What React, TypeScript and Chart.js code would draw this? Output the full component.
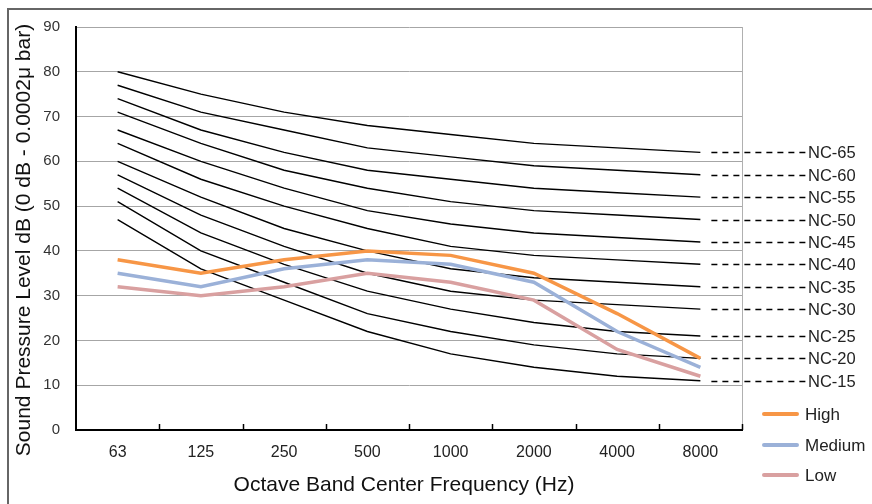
import React, { useEffect, useRef } from "react";
import { Chart, registerables } from "chart.js";

Chart.register(...registerables);

const categories = ["63", "125", "250", "500", "1000", "2000", "4000", "8000"];

const nc15 = [47, 36, 29, 22, 17, 14, 12, 11];
const nc20 = [51, 40, 33, 26, 22, 19, 17, 16];
const nc25 = [54, 44, 37, 31, 27, 24, 22, 21];
const nc30 = [57, 48, 41, 35, 31, 29, 28, 27];
const nc35 = [60, 52, 45, 40, 36, 34, 33, 32];
const nc40 = [64, 56, 50, 45, 41, 39, 38, 37];
const nc45 = [67, 60, 54, 49, 46, 44, 43, 42];
const nc50 = [71, 64, 58, 54, 51, 49, 48, 47];
const nc55 = [74, 67, 62, 58, 56, 54, 53, 52];
const nc60 = [77, 71, 67, 63, 61, 59, 58, 57];
const nc65 = [80, 75, 71, 68, 66, 64, 63, 62];

const ncNames = ["NC-65", "NC-60", "NC-55", "NC-50", "NC-45", "NC-40", "NC-35", "NC-30", "NC-25", "NC-20", "NC-15"];
const ncSeries = [nc65, nc60, nc55, nc50, nc45, nc40, nc35, nc30, nc25, nc20, nc15];

const high = [38, 35, 38, 40, 39, 35, 26, 16];
const medium = [35, 32, 36, 38, 37, 33, 22, 14];
const low = [32, 30, 32, 35, 33, 29, 18, 12];

const seriesNames = ["High", "Medium", "Low"];
const seriesColors = ["#F79646", "#9BB1D8", "#D9A0A0"];

const yTicks = [0, 10, 20, 30, 40, 50, 60, 70, 80, 90];

const yTitle = "Sound Pressure Level dB (0 dB - 0.0002\u03bc bar)";
const xTitle = "Octave Band Center Frequency (Hz)";

const FONT = "'Liberation Sans', Arial, sans-serif";

const decorPlugin = {
  id: "decor",
  beforeDraw(chart: any) {
    const ctx = chart.ctx;
    ctx.save();
    ctx.fillStyle = "#fff";
    ctx.fillRect(0, 0, chart.width, chart.height);
    ctx.strokeStyle = "#666";
    ctx.lineWidth = 2;
    ctx.beginPath();
    ctx.moveTo(chart.width + 2, 9);
    ctx.lineTo(8, 9);
    ctx.lineTo(8, chart.height + 2);
    ctx.stroke();
    ctx.restore();
  },
  afterDatasetsDraw(chart: any) {
    const ctx = chart.ctx;
    const area = chart.chartArea;
    const x = chart.scales.x;
    const y = chart.scales.y;
    ctx.save();
    ctx.strokeStyle = "#b0b0b0";
    ctx.lineWidth = 1;
    ctx.beginPath();
    ctx.moveTo(area.right + 0.5, area.top);
    ctx.lineTo(area.right + 0.5, area.bottom);
    ctx.stroke();
    ctx.strokeStyle = "#000";
    ctx.lineWidth = 1.5;
    const n = categories.length;
    const step = (area.right - area.left) / n;
    for (let i = 1; i <= n; i++) {
      const px = Math.round(area.left + i * step) + 0.5;
      ctx.beginPath();
      ctx.moveTo(px, area.bottom);
      ctx.lineTo(px, area.bottom - 6);
      ctx.stroke();
    }
    const lastX = x.getPixelForValue(categories.length - 1);
    ctx.font = "16.5px " + FONT;
    ctx.textBaseline = "middle";
    ctx.textAlign = "left";
    ncSeries.forEach((s, i) => {
      const py = Math.round(y.getPixelForValue(s[s.length - 1])) + 0.5;
      ctx.strokeStyle = "#000";
      ctx.lineWidth = 1.3;
      ctx.setLineDash([6, 5]);
      ctx.beginPath();
      ctx.moveTo(lastX + 11, py);
      ctx.lineTo(807, py);
      ctx.stroke();
      ctx.setLineDash([]);
      ctx.fillStyle = "#222";
      ctx.fillText(ncNames[i], 808, py + 1);
    });
    ctx.font = "17px " + FONT;
    const ly = [414, 445, 475];
    seriesNames.forEach((name, i) => {
      ctx.strokeStyle = seriesColors[i];
      ctx.lineWidth = 4;
      ctx.lineCap = "round";
      ctx.beginPath();
      ctx.moveTo(764, ly[i]);
      ctx.lineTo(797, ly[i]);
      ctx.stroke();
      ctx.fillStyle = "#222";
      ctx.fillText(name, 805, ly[i] + 1);
    });
    ctx.font = "21px " + FONT;
    ctx.fillStyle = "#111";
    ctx.textAlign = "center";
    ctx.fillText(xTitle, 404, 485);
    ctx.translate(24, 240);
    ctx.rotate(-Math.PI / 2);
    ctx.fillText(yTitle, 0, 0);
    ctx.restore();
  },
};

export default function App() {
  const ref = useRef<HTMLCanvasElement>(null);
  useEffect(() => {
    if (!ref.current) return;
    const datasets: any[] = [];
    [high, medium, low].forEach((d, i) => {
      datasets.push({
        label: seriesNames[i],
        data: d,
        borderColor: seriesColors[i],
        backgroundColor: seriesColors[i],
        borderWidth: 3.5,
        pointRadius: 0,
        tension: 0,
      });
    });
    ncSeries.forEach((d, i) => {
      datasets.push({
        label: ncNames[i],
        data: d,
        borderColor: "#000",
        borderWidth: 1.4,
        pointRadius: 0,
        tension: 0,
      });
    });
    const chart = new Chart(ref.current, {
      type: "line",
      data: { labels: categories, datasets },
      options: {
        responsive: false,
        animation: false,
        layout: { padding: { left: 0, top: 27, right: 130, bottom: 0 } },
        plugins: { legend: { display: false }, tooltip: { enabled: false } },
        scales: {
          x: {
            type: "category",
            offset: true,
            grid: { display: false, drawTicks: false },
            border: { display: true, color: "#000", width: 2 },
            ticks: { padding: 13, color: "#222", font: { size: 16, family: FONT }, maxRotation: 0 },
            afterFit: (s: any) => { s.height = 74; },
          },
          y: {
            min: 0,
            max: 90,
            afterBuildTicks: (s: any) => { s.ticks = yTicks.map((v) => ({ value: v })); },
            grid: { color: "#a6a6a6", lineWidth: 1, drawTicks: false },
            border: { display: true, color: "#000", width: 2 },
            ticks: { padding: 16, color: "#333", font: { size: 15, family: FONT } },
            afterFit: (s: any) => { s.width = 76; },
          },
        },
      },
      plugins: [decorPlugin],
    });
    return () => chart.destroy();
  }, []);
  return (
    <div style={{ position: "absolute", left: 0, top: 0, width: 872, height: 504, overflow: "hidden", background: "#fff" }}>
      <canvas ref={ref} width={872} height={504} style={{ position: "absolute", left: 0, top: 0, display: "block" }} />
    </div>
  );
}
